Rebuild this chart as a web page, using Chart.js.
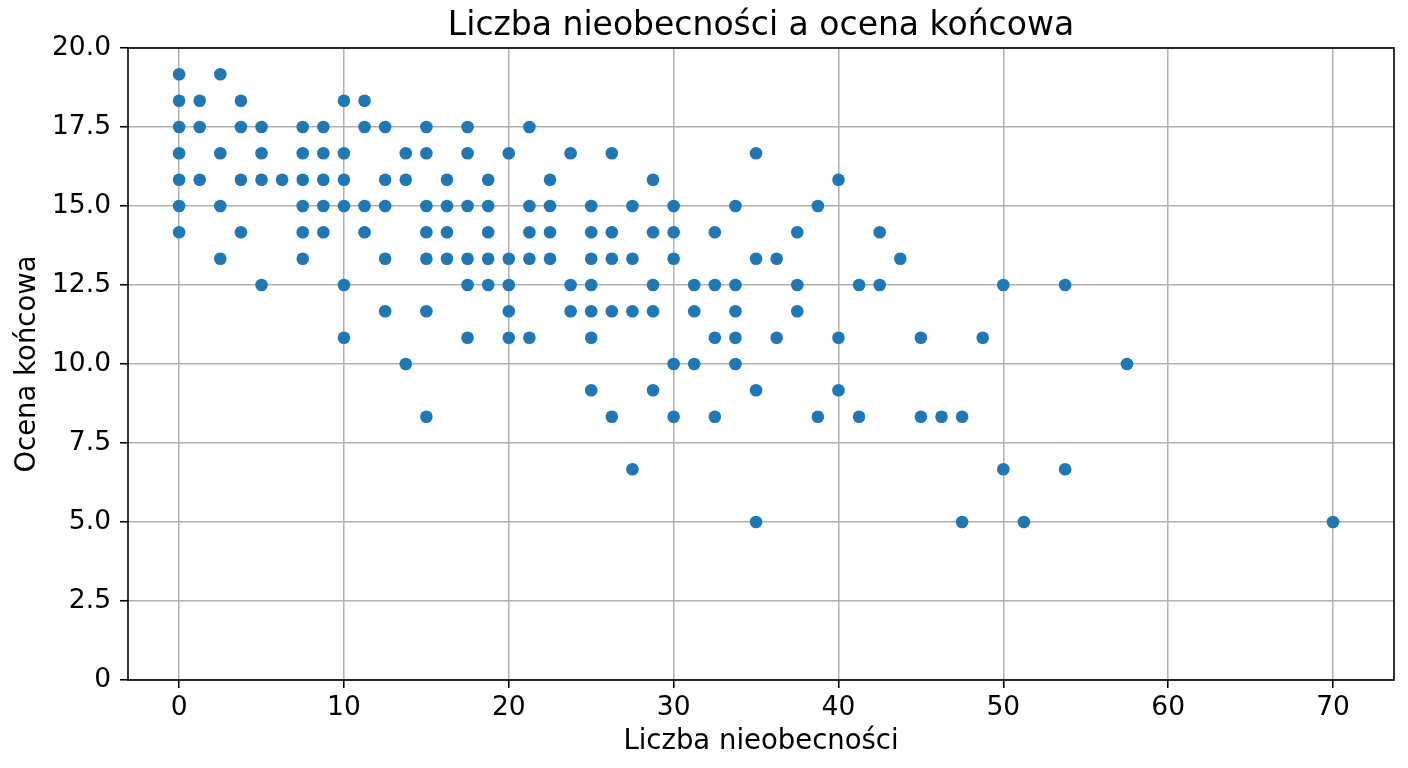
<!DOCTYPE html>
<html lang="pl">
<head>
<meta charset="utf-8">
<title>Liczba nieobecności a ocena końcowa</title>
<script src="https://cdn.jsdelivr.net/npm/chart.js@4/dist/chart.umd.min.js"></script>
<style>
  html, body { margin: 0; padding: 0; background: #fff; }
  canvas { display: block; }
</style>
</head>
<body>
<canvas id="chart" width="1408" height="768"></canvas>
<script>
// Liczba nieobecności (x) i ocena końcowa (y), kolumna po kolumnie
const absences = [
  0, 0, 0, 0, 0, 0, 0,
  1.25, 1.25, 1.25,
  2.5, 2.5, 2.5, 2.5,
  3.75, 3.75, 3.75, 3.75,
  5, 5, 5, 5,
  6.25,
  7.5, 7.5, 7.5, 7.5, 7.5, 7.5,
  8.75, 8.75, 8.75, 8.75, 8.75,
  10, 10, 10, 10, 10, 10,
  11.25, 11.25, 11.25, 11.25,
  12.5, 12.5, 12.5, 12.5, 12.5,
  13.75, 13.75, 13.75,
  15, 15, 15, 15, 15, 15, 15,
  16.25, 16.25, 16.25, 16.25,
  17.5, 17.5, 17.5, 17.5, 17.5, 17.5,
  18.75, 18.75, 18.75, 18.75, 18.75,
  20, 20, 20, 20, 20,
  21.25, 21.25, 21.25, 21.25, 21.25,
  22.5, 22.5, 22.5, 22.5,
  23.75, 23.75, 23.75,
  25, 25, 25, 25, 25, 25, 25,
  26.25, 26.25, 26.25, 26.25, 26.25,
  27.5, 27.5, 27.5, 27.5,
  28.75, 28.75, 28.75, 28.75, 28.75,
  30, 30, 30, 30, 30,
  31.25, 31.25, 31.25,
  32.5, 32.5, 32.5, 32.5,
  33.75, 33.75, 33.75, 33.75, 33.75,
  35, 35, 35, 35,
  36.25, 36.25,
  37.5, 37.5, 37.5,
  38.75, 38.75,
  40, 40, 40,
  41.25, 41.25,
  42.5, 42.5,
  43.75,
  45, 45,
  46.25,
  47.5, 47.5,
  48.75,
  50, 50,
  51.25,
  53.75, 53.75,
  57.5,
  70
];

const grades = [
  19.17, 18.33, 17.5, 16.67, 15.83, 15, 14.17,
  18.33, 17.5, 15.83,
  19.17, 16.67, 15, 13.33,
  18.33, 17.5, 15.83, 14.17,
  17.5, 16.67, 15.83, 12.5,
  15.83,
  17.5, 16.67, 15.83, 15, 14.17, 13.33,
  17.5, 16.67, 15.83, 15, 14.17,
  18.33, 16.67, 15.83, 15, 12.5, 10.83,
  18.33, 17.5, 15, 14.17,
  17.5, 15.83, 15, 13.33, 11.67,
  16.67, 15.83, 10,
  17.5, 16.67, 15, 14.17, 13.33, 11.67, 8.33,
  15.83, 15, 14.17, 13.33,
  17.5, 16.67, 15, 13.33, 12.5, 10.83,
  15.83, 15, 14.17, 13.33, 12.5,
  16.67, 13.33, 12.5, 11.67, 10.83,
  17.5, 15, 14.17, 13.33, 10.83,
  15.83, 15, 14.17, 13.33,
  16.67, 12.5, 11.67,
  15, 14.17, 13.33, 12.5, 11.67, 10.83, 9.17,
  16.67, 14.17, 13.33, 11.67, 8.33,
  15, 13.33, 11.67, 6.67,
  15.83, 14.17, 12.5, 11.67, 9.17,
  15, 14.17, 13.33, 10, 8.33,
  12.5, 11.67, 10,
  14.17, 12.5, 10.83, 8.33,
  15, 12.5, 11.67, 10.83, 10,
  16.67, 13.33, 9.17, 5,
  13.33, 10.83,
  14.17, 12.5, 11.67,
  15, 8.33,
  15.83, 10.83, 9.17,
  12.5, 8.33,
  14.17, 12.5,
  13.33,
  10.83, 8.33,
  8.33,
  8.33, 5,
  10.83,
  12.5, 6.67,
  5,
  12.5, 6.67,
  10,
  5
];

const xTicks = [0, 10, 20, 30, 40, 50, 60, 70];
const yTicks = [0, 2.5, 5, 7.5, 10, 12.5, 15, 17.5, 20];
const yTickLabels = ['0', '2.5', '5.0', '7.5', '10.0', '12.5', '15.0', '17.5', '20.0'];

const FONT = 'DejaVu Sans';
const BLUE = '#1f77b4';

const points = absences.map((x, i) => ({ x: x, y: grades[i] }));

// czarna ramka wokół obszaru wykresu (jak spines w matplotlib)
const frame = {
  id: 'frame',
  afterDraw(chart) {
    const a = chart.chartArea;
    const ctx = chart.ctx;
    ctx.save();
    ctx.strokeStyle = '#000';
    ctx.lineWidth = 1.6;
    ctx.strokeRect(a.left, a.top, a.right - a.left, a.bottom - a.top);
    ctx.restore();
  }
};

new Chart(document.getElementById('chart'), {
  type: 'scatter',
  data: {
    datasets: [{
      data: points,
      backgroundColor: BLUE,
      borderWidth: 0,
      pointRadius: 6.3,
      pointHoverRadius: 6.3
    }]
  },
  options: {
    responsive: false,
    animation: false,
    devicePixelRatio: 1,
    events: [],
    layout: { padding: { left: 0, right: 14, top: 0, bottom: 0 } },
    plugins: {
      legend: { display: false },
      tooltip: { enabled: false },
      title: {
        display: true,
        text: 'Liczba nieobecności a ocena końcowa',
        color: '#000',
        fullSize: false,
        font: { family: FONT, size: 33, weight: 'normal' },
        padding: { top: 6.4, bottom: 2 }
      }
    },
    scales: {
      x: {
        type: 'linear',
        position: 'bottom',
        min: -3.1,
        max: 73.7,
        afterBuildTicks: s => { s.ticks = xTicks.map(v => ({ value: v })); },
        afterFit: s => { s.height = 88; },
        border: { display: false },
        grid: {
          color: '#b0b0b0',
          lineWidth: 1.5,
          tickColor: '#000',
          tickLength: 8,
          tickWidth: 1.6
        },
        ticks: {
          color: '#000',
          padding: 4.2,
          maxRotation: 0,
          autoSkip: false,
          font: { family: FONT, size: 26.5 }
        },
        title: {
          display: true,
          text: 'Liczba nieobecności',
          color: '#000',
          font: { family: FONT, size: 27.5 },
          padding: { top: 0, bottom: 9.7 }
        }
      },
      y: {
        type: 'linear',
        position: 'left',
        min: 0,
        max: 20,
        afterBuildTicks: s => { s.ticks = yTicks.map(v => ({ value: v })); },
        afterFit: s => { s.width = 128; },
        border: { display: false },
        grid: {
          color: '#b0b0b0',
          lineWidth: 1.5,
          tickColor: '#000',
          tickLength: 8,
          tickWidth: 1.6
        },
        ticks: {
          color: '#000',
          padding: 9,
          autoSkip: false,
          font: { family: FONT, size: 26.5 },
          callback: v => yTickLabels[yTicks.indexOf(v)]
        },
        title: {
          display: true,
          text: 'Ocena końcowa',
          color: '#000',
          font: { family: FONT, size: 27.5 },
          padding: { top: 11.3, bottom: 0 }
        }
      }
    }
  },
  plugins: [frame]
});
</script>
</body>
</html>
